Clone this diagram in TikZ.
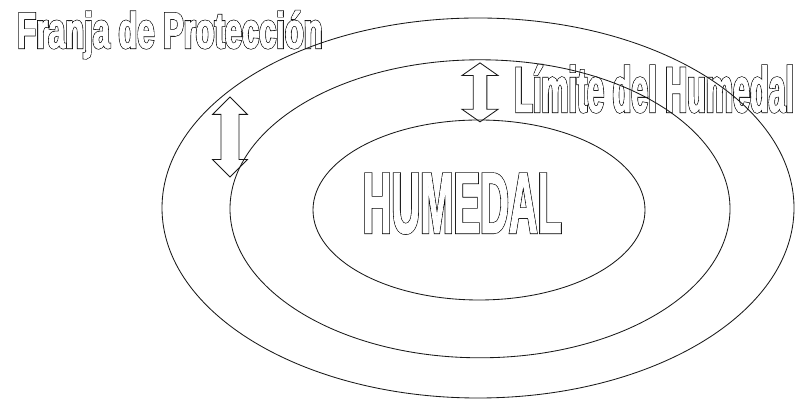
\documentclass[tikz,border=0pt]{standalone}
\usepackage{fontspec}
\setmainfont{Liberation Sans}
\newfontfamily\franjafont[FakeStretch=0.61]{Liberation Sans}
\newfontfamily\limitefont[FakeStretch=0.475]{Liberation Sans}
\newfontfamily\humedalfont[FakeStretch=0.46]{Liberation Sans}
\usetikzlibrary{shapes.arrows}

% hollow letters: a wide black stroke, then the glyphs again in white
\newcommand{\hueco}[1]{%
  \special{pdf:literal direct 1 Tr 1.5 w}\rlap{#1}%
  \special{pdf:literal direct 2 Tr 0.6 w}\textcolor{white}{#1}%
  \special{pdf:literal direct 0 Tr}}

\tikzset{
  zona/.style={draw=black!90, line width=0.6pt},
  flecha/.style={double arrow, draw=black!90, line width=0.6pt,
    inner xsep=0pt, rotate=90},
  rotulo/.style={inner sep=0pt, text=black}
}

\begin{document}
\begin{tikzpicture}[x=1cm,y=1cm]
  \useasboundingbox (0,0) rectangle (19.9,10);
  \fill[white] (0,0) rectangle (19.9,10);

  % Labels (the rings run through them)
  \node[rotulo, anchor=base west, font=\franjafont\bfseries\fontsize{36}{40}\selectfont]
    (tfranja) at (0.425,8.8) {\hueco{Franja de Protección}};
  \node[rotulo, anchor=base west, font=\limitefont\bfseries\fontsize{45.7}{50}\selectfont]
    (tlimite) at (12.85,7.2) {\hueco{Límite del Humedal}};
  \node[rotulo, anchor=base, font=\humedalfont\bfseries\fontsize{61.6}{66}\selectfont]
    (thumedal) at (11.56,4.175) {\hueco{HUMEDAL}};

  % Rings
  \draw[zona] (11.95,4.8) ellipse (7.9cm and 4.75cm);
  \draw[zona] (12.0,4.78) ellipse (6.25cm and 3.725cm);
  \draw[zona] (11.975,4.75) ellipse (4.15cm and 2.25cm);

  % Arrows
  \node[flecha, minimum height=2.0cm, inner ysep=0.215cm,
    double arrow head extend=0.21cm, double arrow tip angle=90] (franja) at (5.75,6.575) {};
  \node[flecha, minimum height=1.475cm, inner ysep=0.16cm,
    double arrow head extend=0.28cm, double arrow tip angle=110] (limite) at (12.0,7.69) {};
\end{tikzpicture}
\end{document}
